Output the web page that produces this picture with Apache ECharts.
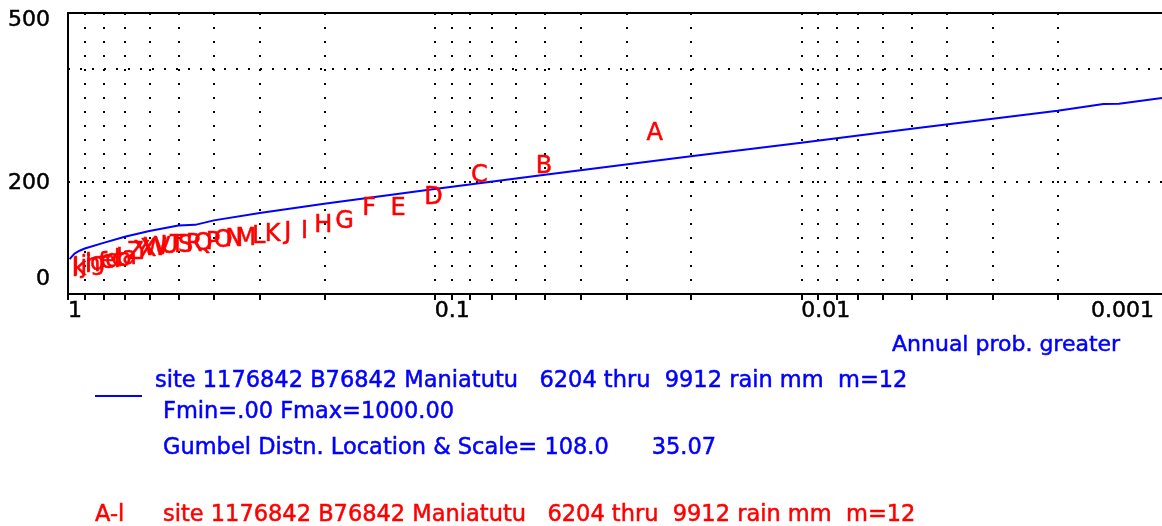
<!DOCTYPE html>
<html><head><meta charset="utf-8">
<script src="https://cdn.jsdelivr.net/npm/echarts@6/dist/echarts.min.js"></script>
<style>html,body{margin:0;padding:0;background:#fff}#c{width:1162px;height:526px}</style>
</head><body><div id="c"></div>
<script>
// ---- data ----
const xTickValues = [1, 0.1, 0.01, 0.001];
const xTickLabels = ['1', '0.1', '0.01', '0.001'];
const yTickValues = [0, 200, 500];
const yTickLabels = ['0', '200', '500'];

// fitted Gumbel curve (annual exceedance probability, rainfall mm)
const curveProb  = [0.99, 0.96, 0.93, 0.9, 0.8, 0.7, 0.6, 0.5, 0.45, 0.4, 0.3, 0.2, 0.1, 0.05, 0.02, 0.01, 0.005, 0.002, 0.0015, 0.00136, 0.001];
const curveValue = [62, 72, 77, 81, 91, 102, 112, 122, 123, 131, 144, 160.5, 187, 212, 245, 269, 294, 326, 338, 338.5, 350];

// ranked annual maxima, plotted as letters
const letters = ['A','B','C','D','E','F','G','H','I','J','K','L','M','N','O','P','Q','R','S','T','U','V','W','X','Y','Z',
                 'a','b','c','d','e','f','g','h','i','j','k','l'];
const letterProb = [0.0256, 0.0513, 0.0769, 0.1026, 0.1282, 0.1538, 0.1795, 0.2051, 0.2308, 0.2564, 0.2821, 0.3077, 0.3333,
                    0.3590, 0.3846, 0.4103, 0.4359, 0.4615, 0.4872, 0.5128, 0.5385, 0.5641, 0.5897, 0.6154, 0.6410, 0.6667,
                    0.6923, 0.7179, 0.7436, 0.7692, 0.7949, 0.8205, 0.8462, 0.8718, 0.8974, 0.9231, 0.9487, 0.9744];
const letterValue = [290, 231, 215, 176, 157, 157, 133, 126, 116, 115, 110, 107, 103, 101, 100, 96, 94, 93, 92, 91, 89, 87, 85, 84, 80, 78,
                     69, 67, 66, 64, 62, 60, 59, 57, 55, 53, 51, 49];

// ---- chart ----
const FONT = 'DejaVu Sans';
const BLUE = '#0000ff', RED = '#ff0000';
const dotV = {color: '#000', width: 2, type: [2, 12]};
const dotH = {color: '#000', width: 2, type: [2, 10]};
const txt = (t, x, y, color, size) => ({type: 'text', x: x, y: y,
  style: {text: t, fill: color, stroke: color, lineWidth: 0.5, fontSize: size, fontFamily: FONT, verticalAlign: 'middle', textVerticalAlign: 'middle'}});

const chart = echarts.init(document.getElementById('c'), null, {renderer: 'canvas'});
chart.setOption({
  animation: false,
  backgroundColor: '#fff',
  textStyle: {fontFamily: FONT},
  grid: {left: 68, top: 13, width: 1100, height: 281, show: true, borderColor: '#000', borderWidth: 2,
         backgroundColor: 'transparent', containLabel: false, outerBoundsMode: 'none'},
  xAxis: {
    type: 'log', logBase: 10, min: 0.001, max: 1, inverse: true,
    axisLine: {show: true, onZero: false, lineStyle: {color: '#000', width: 2}},
    axisTick: {show: true, length: 6, lineStyle: {color: '#000', width: 2}},
    minorTick: {show: true, splitNumber: 9, length: 6, lineStyle: {color: '#000', width: 2}},
    splitLine: {show: true, lineStyle: dotV},
    minorSplitLine: {show: true, lineStyle: dotV},
    axisLabel: {
      show: true, margin: 6, align: 'left', alignMinLabel: 'right', alignMaxLabel: 'left', color: '#000', fontSize: 22, fontFamily: FONT,
      textBorderColor: '#000', textBorderWidth: 0.5,
      formatter: function (v) {
        for (let i = 0; i < xTickValues.length; i++) {
          if (Math.abs(v - xTickValues[i]) < xTickValues[i] * 1e-6) {
            return i === xTickValues.length - 1 ? '{e|' + xTickLabels[i] + '}' : xTickLabels[i];
          }
        }
        return '';
      },
      rich: {e: {padding: [0, 14, 0, 0], fontSize: 22, fontFamily: FONT, color: '#000', textBorderColor: '#000', textBorderWidth: 0.5}}
    }
  },
  yAxis: [{
    type: 'value', min: 0, max: 500, interval: 100,
    axisLine: {show: true, lineStyle: {color: '#000', width: 2}},
    axisTick: {show: false},
    splitLine: {show: false},
    axisLabel: {
      show: true, margin: 18, color: '#000', fontSize: 22, fontFamily: FONT,
      formatter: function (v) {
        const i = yTickValues.indexOf(v);
        if (i < 0) return '';
        return ['{b|', '{m|', '{t|'][i] + yTickLabels[i] + '}';
      },
      rich: {
        b: {padding: [0, 0, 30, 0], fontSize: 22, fontFamily: FONT, color: '#000', textBorderColor: '#000', textBorderWidth: 0.5},
        m: {padding: [3, 0, 0, 0], fontSize: 22, fontFamily: FONT, color: '#000', textBorderColor: '#000', textBorderWidth: 0.5},
        t: {padding: [15, 0, 0, 0], fontSize: 22, fontFamily: FONT, color: '#000', textBorderColor: '#000', textBorderWidth: 0.5}
      }
    }
  }, {
    type: 'value', min: 0, max: 500, interval: 200, position: 'left',
    axisLine: {show: false}, axisTick: {show: false}, axisLabel: {show: false},
    splitLine: {show: true, lineStyle: dotH}
  }],
  series: [{
    type: 'line', name: 'Gumbel', yAxisIndex: 0,
    data: curveProb.map((p, i) => [p, curveValue[i]]),
    showSymbol: false, symbol: 'none', smooth: false,
    lineStyle: {color: BLUE, width: 2}, z: 3
  }, {
    type: 'custom', name: 'obs', yAxisIndex: 0,
    data: letterProb.map((p, i) => [p, letterValue[i]]),
    renderItem: function (params, api) {
      const pt = api.coord([api.value(0), api.value(1)]);
      return {
        type: 'text', x: pt[0] + 3, y: pt[1] + 3,
        style: {text: letters[params.dataIndex], fill: RED, stroke: RED, lineWidth: 0.5, fontSize: 24, fontFamily: FONT,
                align: 'center', verticalAlign: 'middle'}
      };
    },
    clip: false, z: 4
  }],
  graphic: [
    txt('Annual prob. greater', 892, 345, BLUE, 22),
    {type: 'line', shape: {x1: 95, y1: 396, x2: 142, y2: 396}, style: {stroke: BLUE, lineWidth: 2}},
    txt('site 1176842 B76842 Maniatutu   6204 thru  9912 rain mm  m=12', 155, 381, BLUE, 22.5),
    txt('Fmin=.00 Fmax=1000.00', 163, 412, BLUE, 22.5),
    txt('Gumbel Distn. Location & Scale= 108.0      35.07', 163, 448, BLUE, 22.5),
    txt('A-l', 95, 515, RED, 22.5),
    txt('site 1176842 B76842 Maniatutu   6204 thru  9912 rain mm  m=12', 163, 515, RED, 22.5)
  ]
});
</script></body></html>
